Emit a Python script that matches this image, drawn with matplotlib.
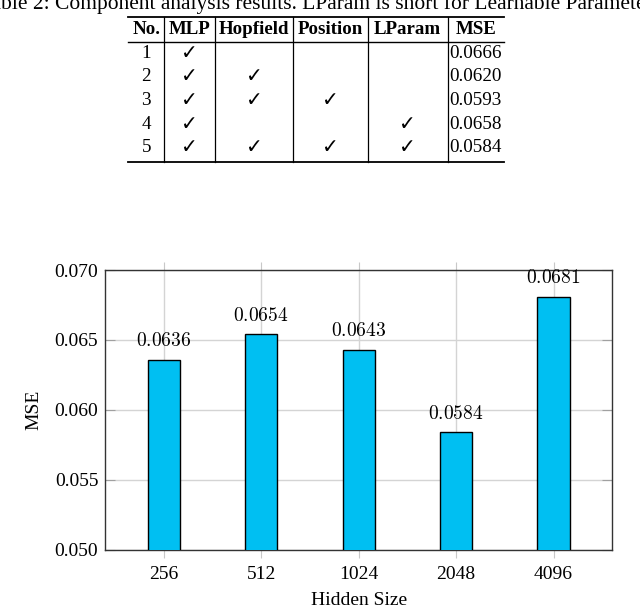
import numpy as np
import matplotlib
matplotlib.use("Agg")
import matplotlib.pyplot as plt

# table data
caption = "Table 2: Component analysis results. LParam is short for Learnable Parameters."
table_header = ["No.", "MLP", "Hopfield", "Position", "LParam", "MSE"]
run_ids = [1, 2, 3, 4, 5]
use_mlp = [1, 1, 1, 1, 1]
use_hopfield = [0, 1, 1, 0, 1]
use_position = [0, 0, 1, 0, 1]
use_lparam = [0, 0, 0, 1, 1]
table_mse = ["0.0666", "0.0620", "0.0593", "0.0658", "0.0584"]

# chart data
hidden_sizes = ["256", "512", "1024", "2048", "4096"]
mse_values = [0.0636, 0.0654, 0.0643, 0.0584, 0.0681]

W, H = 640, 609
BAR_COLOR = "#00BFF2"

plt.rcParams["font.family"] = ["Liberation Serif", "DejaVu Sans"]
plt.rcParams["mathtext.fontset"] = "cm"


def draw_table(ax):
    # ax works in pixel coords, y going down
    col_edges = [128.3, 164.3, 215, 293.3, 367.7, 447.7, 504]
    y_top, y_head, y_bot = 16.7, 42, 162.3
    row_y = [53.3, 76.8, 100.5, 124.2, 147.8]

    ax.text(-20, 9, caption, fontsize=15.5, ha="left", va="baseline")

    ax.plot([col_edges[0], col_edges[-1]], [y_top, y_top], color="black", lw=1.3)
    ax.plot([col_edges[0], col_edges[-1]], [y_head, y_head], color="black", lw=1.0)
    ax.plot([col_edges[0], col_edges[-1]], [y_bot, y_bot], color="black", lw=1.3)
    for x in col_edges[1:-1]:
        ax.plot([x, x], [y_top, y_bot], color="black", lw=0.9)

    centers = [(a + b) / 2 for a, b in zip(col_edges[:-1], col_edges[1:])]
    for c, name in zip(centers, table_header):
        ax.text(c, 29.5, name, fontsize=13.6, fontweight="bold", ha="center", va="center")

    flags = [use_mlp, use_hopfield, use_position, use_lparam]
    for i, y in enumerate(row_y):
        ax.text(centers[0], y, str(run_ids[i]), fontsize=13.8, ha="center", va="center")
        for k, f in enumerate(flags):
            if f[i]:
                ax.text(centers[k + 1], y, "\u2713", fontsize=14.5, ha="center", va="center",
                        family=["DejaVu Sans"])
        ax.text(col_edges[5] + 1.5, y, table_mse[i], fontsize=13.8, ha="left", va="center")


def draw_chart(fig):
    left, right = 105.3, 612
    top, bottom = 270, 549.7
    ax = fig.add_axes([left / W, 1 - bottom / H, (right - left) / W, (bottom - top) / H])

    x = np.arange(len(hidden_sizes))
    bars = ax.bar(x, mse_values, width=0.33, color=BAR_COLOR, edgecolor="black",
                  linewidth=1.0, zorder=3)
    for b, v in zip(bars, mse_values):
        ax.annotate("$%.4f$" % v, (b.get_x() + b.get_width() / 2, v),
                    xytext=(0, 7), textcoords="offset points",
                    ha="center", va="bottom", fontsize=14, zorder=4)

    ax.set_xlim(-0.6, len(hidden_sizes) - 0.4)
    ax.set_ylim(0.050, 0.070)
    ax.set_xticks(x)
    ax.set_xticklabels(hidden_sizes)
    ax.set_yticks([0.050, 0.055, 0.060, 0.065, 0.070])
    ax.set_yticklabels(["0.050", "0.055", "0.060", "0.065", "0.070"])

    ax.grid(True, color="#d4d4d4", linewidth=1.0, zorder=0)
    ax.set_axisbelow(True)
    ax.tick_params(axis="x", direction="out", top=True, bottom=True, length=6,
                   color="#c8c8c8", labelsize=14, pad=6)
    ax.tick_params(axis="y", direction="in", left=True, right=True, length=7,
                   color="#a0a0a0", labelsize=14, pad=5)
    for s in ax.spines.values():
        s.set_color("#333333")
        s.set_linewidth(1.0)

    ax.set_xlabel("Hidden Size", fontsize=14, labelpad=6)
    ax.set_ylabel("MSE", fontsize=14, labelpad=9)
    return ax


def main():
    fig = plt.figure(figsize=(W / 100, H / 100), dpi=100)

    tab = fig.add_axes([0, 0, 1, 1])
    tab.set_xlim(0, W)
    tab.set_ylim(H, 0)
    tab.axis("off")
    draw_table(tab)

    draw_chart(fig)

    fig.savefig("out.png", dpi=100)


if __name__ == '__main__':
    main()
